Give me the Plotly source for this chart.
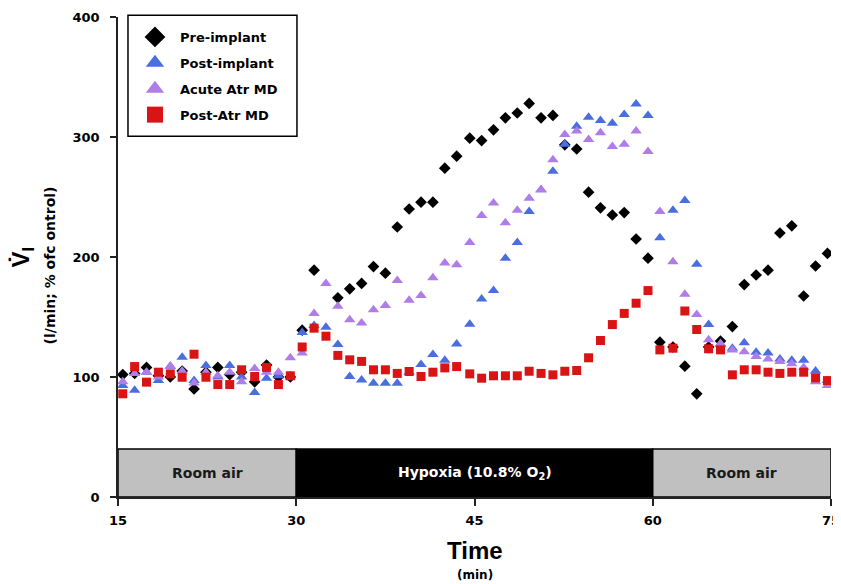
import plotly.graph_objects as go

# ---- data -------------------------------------------------------------
time_min = [15.4, 16.4, 17.4, 18.4, 19.4, 20.4, 21.4, 22.4, 23.4, 24.4,
            25.4, 26.5, 27.5, 28.5, 29.5, 30.5, 31.5, 32.5, 33.5, 34.5,
            35.5, 36.5, 37.5, 38.5, 39.5, 40.5, 41.5, 42.5, 43.5, 44.6,
            45.6, 46.6, 47.6, 48.6, 49.6, 50.6, 51.6, 52.6, 53.6, 54.6,
            55.6, 56.6, 57.6, 58.6, 59.6, 60.6, 61.7, 62.7, 63.7, 64.7,
            65.7, 66.7, 67.7, 68.7, 69.7, 70.7, 71.7, 72.7, 73.7, 74.7]

pre_implant = [102, 103, 108, 101, 100, 105, 90, 104, 108, 102,
               104, 96, 110, 100, 100, 139, 189, None, 166, 173.5,
               178, 192, 186.5, 225, 240, 245.7, 245.7, 274, 284, 299,
               297, 306, 316, 320, 328, 316, 318, 293.5, 290, 254,
               241, 235, 237, 215, 199, 129, 125, 109, 86, 125,
               130, 142, 177, 185, 189, 220, 226, 167.5, 192.5, 203]

post_implant = [93, 89, 104, 97, 109, 116.5, 97, 109.6, 100, 109.6,
                100, 87, 99, 101, 100, 137, 143, 141.5, 127, 100.4,
                97.6, 94.8, 94.8, 94.8, 104, 110.4, 118.7, 114, 127.6, 144,
                165, 172, 199, 212, 238, 256, 271.5, 294, 309, 316.5,
                313.7, 311.5, 318.7, 327.6, 318, 216, 239, 247, 194, 143.7,
                127, 124, 128.5, 120.7, 120, 115, 114, 114, 105, 97]

acute_atr_md = [96, 103, 104, 100, 109, 105, 95, 104, 101, 104,
                96, 107, 104, 104, 116, 120, 153, 178, 159, 147.7,
                145, 156, 159.6, 180.4, 164, 168, 182.7, 195, 193.5, 212,
                234.6, 245, 228.5, 239, 249, 256, 281, 302, 305, 298,
                303.5, 292, 294, 305, 288, 238, 196, 169, 152, 131,
                128, 122.6, 121, 117, 115, 113, 111, 108, 96, 93]

post_atr_md = [86, 108.7, 95.7, 104, 102.6, 99.8, 119, 99.8, 93.7, 93.7,
               106, 100.4, 108, 93.7, 101, 125, 140.7, 134, 118, 114.3,
               113, 106, 106, 103, 104.6, 100.4, 104, 107.6, 108.7, 102.6,
               99, 101, 101, 101, 104.8, 103, 101.8, 104.8, 105.4, 116,
               130.4, 143.7, 153, 161.5, 172, 122.6, 124, 155, 139.6, 123.5,
               122.6, 101.8, 106, 106, 104, 103, 104, 104, 99.3, 97]

series_names = ["Pre-implant", "Post-implant", "Acute Atr MD", "Post-Atr MD"]

phase_labels = ["Room air", "Hypoxia (10.8% O<sub>2</sub>)", "Room air"]
phase_start = [15, 30, 60]
phase_end = [30, 60, 75]
phase_top = 40

x_ticks = [15, 30, 45, 60, 75]
y_ticks = [0, 100, 200, 300, 400]

# ---- styles -----------------------------------------------------------
FONT = "DejaVu Sans, Verdana, sans-serif"
FONT_ARIAL = "Liberation Sans, Arial, sans-serif"
styles = [
    dict(symbol="diamond", color="#000000", size=9),
    dict(symbol="triangle-up", color="#4a6ee0", size=10),
    dict(symbol="triangle-up", color="#b07de8", size=10),
    dict(symbol="square", color="#d81414", size=9),
]
phase_fill = ["#c0c0c0", "#000000", "#c0c0c0"]
phase_text = ["#1a1a1a", "#ffffff", "#1a1a1a"]

fig = go.Figure()

all_series = [pre_implant, post_implant, acute_atr_md, post_atr_md]
for name, vals, st in zip(series_names, all_series, styles):
    fig.add_trace(go.Scatter(
        x=time_min, y=vals, mode="markers", name=name, showlegend=False,
        marker=dict(symbol=st["symbol"], color=st["color"], size=st["size"],
                    line=dict(width=0)),
    ))

# legend-only entries with larger symbols
for i, (name, st) in enumerate(zip(series_names, styles)):
    fig.add_trace(go.Scatter(
        x=[None], y=[None], mode="markers", name=name, legendgroup=f"g{i}",
        marker=dict(symbol=st["symbol"], color=st["color"], size=16,
                    line=dict(width=0)),
    ))

# phase bar
for s, e, lab, fc, tc in zip(phase_start, phase_end, phase_labels, phase_fill, phase_text):
    fig.add_shape(type="rect", xref="x", yref="y", x0=s, x1=e, y0=0, y1=phase_top,
                  fillcolor=fc, line=dict(color="#000000", width=1.5), layer="below")
    fig.add_annotation(x=(s + e) / 2, y=phase_top / 2, xref="x", yref="y",
                       text=f"<b>{lab}</b>", showarrow=False,
                       xanchor="center", yanchor="middle",
                       font=dict(family=FONT, size=14, color=tc))

# legend frame
fig.add_shape(type="rect", xref="paper", yref="paper",
              x0=0.014, x1=0.251, y0=0.7515, y1=1.0035,
              fillcolor="white", line=dict(color="#000000", width=1.5), layer="above")

# axis titles
fig.add_annotation(x=0.5, y=-0.111, xref="paper", yref="paper",
                   text="<b>Time</b>", showarrow=False,
                   xanchor="center", yanchor="middle",
                   font=dict(family=FONT_ARIAL, size=24, color="#000000"))
fig.add_annotation(x=0.5, y=-0.163, xref="paper", yref="paper",
                   text="<b>(min)</b>", showarrow=False,
                   xanchor="center", yanchor="middle",
                   font=dict(family=FONT, size=12, color="#000000"))
fig.add_annotation(x=-0.134, y=0.50, xref="paper", yref="paper",
                   text="<b>V\u0307<sub>I</sub></b>", showarrow=False, textangle=-90,
                   xanchor="center", yanchor="middle",
                   font=dict(family=FONT_ARIAL, size=24, color="#000000"))
fig.add_annotation(x=-0.095, y=0.483, xref="paper", yref="paper",
                   text="<b>(l/min; % ofc ontrol)</b>", showarrow=False, textangle=-90,
                   xanchor="center", yanchor="middle",
                   font=dict(family=FONT, size=14, color="#000000"))

# the page body adds an 8px offset, so the figure is sized to fill the rest
fig.update_layout(
    width=833, height=576,
    margin=dict(l=110, r=10, t=9, b=87, autoexpand=False),
    plot_bgcolor="white", paper_bgcolor="white",
    font=dict(family=FONT, size=13, color="#000000"),
    legend=dict(x=0.0168, y=0.9896, xanchor="left", yanchor="top",
                borderwidth=0, bgcolor="rgba(0,0,0,0)",
                font=dict(family=FONT, size=13, color="#000000", weight="bold"),
                tracegroupgap=6, itemwidth=40),
    xaxis=dict(range=[15, 75], tickvals=x_ticks, ticktext=[f"<b>{t}</b>" for t in x_ticks],
               showline=True, linecolor="#222222", linewidth=1.5,
               ticks="outside", ticklen=7, tickwidth=1.5, tickcolor="#222222",
               tickfont=dict(family=FONT, size=13),
               showgrid=False, zeroline=False, ticklabelstandoff=4, automargin=False),
    yaxis=dict(range=[0, 400], tickvals=y_ticks, ticktext=[f"<b>{t}</b>" for t in y_ticks],
               showline=True, linecolor="#222222", linewidth=1.5,
               ticks="outside", ticklen=6, tickwidth=1.5, tickcolor="#222222",
               tickfont=dict(family=FONT, size=13),
               showgrid=False, zeroline=False, ticklabelstandoff=8, automargin=False),
)

fig.write_html("out.html")
